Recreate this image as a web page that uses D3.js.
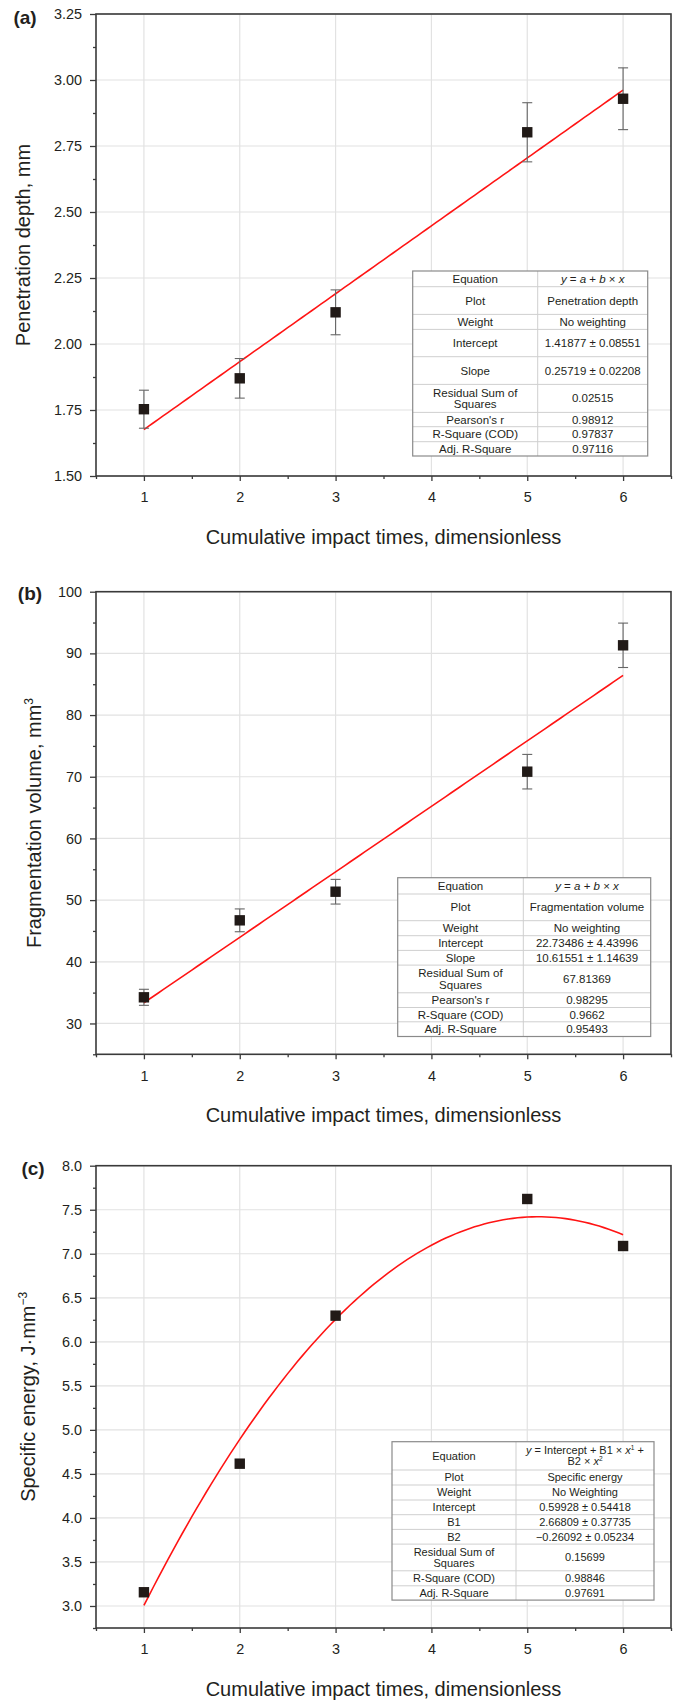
<!DOCTYPE html>
<html>
<head>
<meta charset="utf-8">
<script src="https://cdn.jsdelivr.net/npm/d3@7"></script>
<style>
  body { margin: 0; background: #fff; }
  svg { display: block; }
  text { font-family: "Liberation Sans", Arial, Helvetica, sans-serif; fill: #231f20; }
</style>
</head>
<body>
<svg id="fig" width="680" height="1701"></svg>
<script>
// ---- data -------------------------------------------------------------
const xTickValues = [1, 2, 3, 4, 5, 6];
const impactTimes = [1, 2, 3, 5, 6];

const depth = [1.753, 1.870, 2.120, 2.802, 2.929];
const depthErr = [0.072, 0.075, 0.085, 0.112, 0.117];
const depthTicks = [1.50, 1.75, 2.00, 2.25, 2.50, 2.75, 3.00, 3.25];
const depthFit = [1.41877, 0.25719];            // intercept, slope

const volume = [34.24, 46.72, 51.36, 70.82, 91.31];
const volumeErr = [1.30, 1.85, 2.00, 2.80, 3.60];
const volumeTicks = [30, 40, 50, 60, 70, 80, 90, 100];
const volumeFit = [22.73486, 10.61551];         // intercept, slope

const energy = [3.156, 4.616, 6.297, 7.622, 7.088];
const energyTicks = [3.0, 3.5, 4.0, 4.5, 5.0, 5.5, 6.0, 6.5, 7.0, 7.5, 8.0];
const energyFit = [0.59928, 2.66809, -0.26092]; // intercept, B1, B2

// fit-report tables; *..* = italic, ^..^ = superscript, \n = line break
const depthTable = [
  ["Equation", "*y* = *a* + *b* × *x*"],
  ["Plot", "Penetration depth"],
  ["Weight", "No weighting"],
  ["Intercept", "1.41877 ± 0.08551"],
  ["Slope", "0.25719 ± 0.02208"],
  ["Residual Sum of\nSquares", "0.02515"],
  ["Pearson's r", "0.98912"],
  ["R-Square (COD)", "0.97837"],
  ["Adj. R-Square", "0.97116"]
];
const volumeTable = [
  ["Equation", "*y* = *a* + *b* × *x*"],
  ["Plot", "Fragmentation volume"],
  ["Weight", "No weighting"],
  ["Intercept", "22.73486 ± 4.43996"],
  ["Slope", "10.61551 ± 1.14639"],
  ["Residual Sum of\nSquares", "67.81369"],
  ["Pearson's r", "0.98295"],
  ["R-Square (COD)", "0.9662"],
  ["Adj. R-Square", "0.95493"]
];
const energyTable = [
  ["Equation", "*y* = Intercept + B1 × *x*^1^ +\nB2 × *x*^2^"],
  ["Plot", "Specific energy"],
  ["Weight", "No Weighting"],
  ["Intercept", "0.59928 ± 0.54418"],
  ["B1", "2.66809 ± 0.37735"],
  ["B2", "\u22120.26092 ± 0.05234"],
  ["Residual Sum of\nSquares", "0.15699"],
  ["R-Square (COD)", "0.98846"],
  ["Adj. R-Square", "0.97691"]
];

// ---- layout -----------------------------------------------------------
const svg = d3.select("#fig");
const plotLeft = 96, plotRight = 671;
const x = d3.scaleLinear().domain([0.5, 6.5]).range([plotLeft, plotRight]);
const fitXs = d3.range(1, 6.0001, 0.05);

const panels = [
  {
    tag: "(a)", tagPos: [25, 23.5],
    top: 14, bottom: 476, domain: [1.5, 3.25],
    ticks: depthTicks, minorStep: 0.125, fmt: d3.format(".2f"),
    values: depth, errors: depthErr,
    fit: t => depthFit[0] + depthFit[1] * t,
    ytitle: [{ t: "Penetration depth, mm" }], ytitleX: 30,
    table: depthTable,
    tableBox: { left: 412.7, col: 537.7, right: 647.7, top: 271,
                rows: [15.7, 27.7, 15, 27.3, 27.7, 28, 14.3, 15, 14.3] },
    fontSize: 11.5, lineGap: 11.3
  },
  {
    tag: "(b)", tagPos: [30, 599.5],
    top: 591.7, bottom: 1054.3, domain: [25, 100],
    ticks: volumeTicks, minorStep: 5, fmt: d3.format("d"),
    values: volume, errors: volumeErr,
    fit: t => volumeFit[0] + volumeFit[1] * t,
    ytitle: [{ t: "Fragmentation volume, mm" }, { t: "3", sup: true }], ytitleX: 41,
    table: volumeTable,
    tableBox: { left: 397.7, col: 523.3, right: 650.7, top: 877.7,
                rows: [16.3, 26.7, 15, 14.7, 14.7, 27.7, 14.7, 14.3, 14.7] },
    fontSize: 11.5, lineGap: 11.3
  },
  {
    tag: "(c)", tagPos: [33, 1175],
    top: 1165.7, bottom: 1628, domain: [2.75, 8.0],
    ticks: energyTicks, minorStep: 0.25, fmt: d3.format(".1f"),
    values: energy, errors: null,
    fit: t => energyFit[0] + energyFit[1] * t + energyFit[2] * t * t,
    ytitle: [{ t: "Specific energy, J·mm" }, { t: "\u22123", sup: true }], ytitleX: 35,
    table: energyTable,
    tableBox: { left: 392, col: 516, right: 654, top: 1441.7,
                rows: [28.3, 15, 15, 14.7, 14.7, 14.7, 26.7, 15, 14.3] },
    fontSize: 11, lineGap: 10.8
  }
];

// writes "*italic*" and "^sup^" markup into a text element as tspans
function richText(sel, str) {
  const parts = str.split(/(\*[^*]+\*|\^[^^]+\^)/).filter(s => s.length);
  let raised = false;
  parts.forEach(p => {
    const ts = sel.append("tspan");
    if (p.startsWith("^")) {
      ts.text(p.slice(1, -1)).attr("font-size", "0.6em").attr("dy", -4);
      raised = true;
      return;
    }
    if (p.startsWith("*")) ts.text(p.slice(1, -1)).attr("font-style", "italic");
    else ts.text(p);
    if (raised) { ts.attr("dy", 4); raised = false; }
  });
}

panels.forEach(p => {
  const y = d3.scaleLinear().domain(p.domain).range([p.bottom, p.top]);
  const g = svg.append("g");

  // grid
  g.append("g").selectAll("line").data(xTickValues).join("line")
    .attr("x1", d => x(d)).attr("x2", d => x(d))
    .attr("y1", p.top).attr("y2", p.bottom)
    .attr("stroke", "#e2e2e2").attr("stroke-width", 1.2);
  g.append("g").selectAll("line").data(p.ticks).join("line")
    .attr("x1", plotLeft).attr("x2", plotRight)
    .attr("y1", d => y(d)).attr("y2", d => y(d))
    .attr("stroke", "#e2e2e2").attr("stroke-width", 1.2);

  // fitted curve
  g.append("path")
    .datum(fitXs)
    .attr("d", d3.line().x(d => x(d)).y(d => y(p.fit(d))))
    .attr("fill", "none").attr("stroke", "#ff1414").attr("stroke-width", 1.6);

  // error bars
  if (p.errors) {
    const eb = g.append("g").attr("stroke", "#666").attr("stroke-width", 1.1);
    impactTimes.forEach((t, i) => {
      const v = p.values[i], e = p.errors[i];
      eb.append("line").attr("x1", x(t)).attr("x2", x(t)).attr("y1", y(v - e)).attr("y2", y(v + e));
      [v - e, v + e].forEach(c => eb.append("line")
        .attr("x1", x(t) - 5).attr("x2", x(t) + 5).attr("y1", y(c)).attr("y2", y(c)));
    });
  }

  // markers
  g.append("g").selectAll("rect").data(impactTimes).join("rect")
    .attr("x", d => x(d) - 5.2)
    .attr("y", (d, i) => y(p.values[i]) - 5.2)
    .attr("width", 10.4).attr("height", 10.4)
    .attr("fill", "#211a17");

  // fit-report table
  const tb = p.tableBox;
  const tg = g.append("g");
  const totalH = d3.sum(tb.rows);
  tg.append("rect").attr("x", tb.left).attr("y", tb.top)
    .attr("width", tb.right - tb.left).attr("height", totalH)
    .attr("fill", "#fff");
  let yy = tb.top;
  p.table.forEach((row, i) => {
    const h = tb.rows[i];
    if (i > 0) {
      tg.append("line").attr("x1", tb.left).attr("x2", tb.right)
        .attr("y1", yy).attr("y2", yy).attr("stroke", "#cfcfcf").attr("stroke-width", 1);
    }
    const cy = yy + h / 2;
    [[row[0], (tb.left + tb.col) / 2], [row[1], (tb.col + tb.right) / 2]].forEach(([txt, cx]) => {
      const lines = txt.split("\n");
      lines.forEach((ln, k) => {
        const t = tg.append("text")
          .attr("x", cx)
          .attr("y", cy + (k - (lines.length - 1) / 2) * p.lineGap)
          .attr("dy", "0.35em")
          .attr("text-anchor", "middle")
          .attr("font-size", p.fontSize);
        richText(t, ln);
      });
    });
    yy += h;
  });
  tg.append("line").attr("x1", tb.col).attr("x2", tb.col)
    .attr("y1", tb.top).attr("y2", tb.top + totalH)
    .attr("stroke", "#cfcfcf").attr("stroke-width", 1);
  tg.append("rect").attr("x", tb.left).attr("y", tb.top)
    .attr("width", tb.right - tb.left).attr("height", totalH)
    .attr("fill", "none").attr("stroke", "#8a8a8a").attr("stroke-width", 1.2);

  // axes
  const minor = d3.range(p.domain[0], p.domain[1] + 1e-9, p.minorStep)
    .filter(v => !p.ticks.some(t => Math.abs(t - v) < 1e-9));
  const left = g.append("g").attr("transform", `translate(${plotLeft},0)`)
    .call(d3.axisLeft(y).tickValues(p.ticks).tickFormat(p.fmt).tickSize(6).tickPadding(8));
  left.select(".domain").remove();
  left.selectAll("text").attr("font-size", 14.4).attr("font-family", null);
  const leftMinor = g.append("g").attr("transform", `translate(${plotLeft},0)`)
    .call(d3.axisLeft(y).tickValues(minor).tickFormat("").tickSize(3));
  leftMinor.select(".domain").remove();

  const bottom = g.append("g").attr("transform", `translate(0,${p.bottom})`)
    .call(d3.axisBottom(x).tickValues(xTickValues).tickFormat(d3.format("d")).tickSize(5).tickPadding(11));
  bottom.select(".domain").remove();
  bottom.selectAll("text").attr("font-size", 14.4).attr("font-family", null);
  const bottomMinor = g.append("g").attr("transform", `translate(0,${p.bottom})`)
    .call(d3.axisBottom(x).tickValues(d3.range(0.5, 6.6, 1)).tickFormat("").tickSize(3));
  bottomMinor.select(".domain").remove();
  g.selectAll(".tick line").attr("stroke", "#3a3a3a").attr("stroke-width", 1.3);
  g.selectAll(".tick text").attr("fill", "#231f20");

  // frame
  g.append("rect").attr("x", plotLeft).attr("y", p.top)
    .attr("width", plotRight - plotLeft).attr("height", p.bottom - p.top)
    .attr("fill", "none").attr("stroke", "#3a3a3a").attr("stroke-width", 1.6);

  // titles
  g.append("text").attr("x", (plotLeft + plotRight) / 2).attr("y", p.bottom + 61)
    .attr("dy", "0.35em").attr("text-anchor", "middle").attr("font-size", 20)
    .text("Cumulative impact times, dimensionless");

  const yt = g.append("text")
    .attr("transform", `translate(${p.ytitleX},${(p.top + p.bottom) / 2}) rotate(-90)`)
    .attr("text-anchor", "middle").attr("font-size", 20);
  p.ytitle.forEach(s => {
    const ts = yt.append("tspan").text(s.t);
    if (s.sup) ts.attr("font-size", 12).attr("dy", -8);
  });

  g.append("text").attr("x", p.tagPos[0]).attr("y", p.tagPos[1])
    .attr("text-anchor", "middle").attr("font-size", 19).attr("font-weight", "bold")
    .text(p.tag);
});
</script>
</body>
</html>
